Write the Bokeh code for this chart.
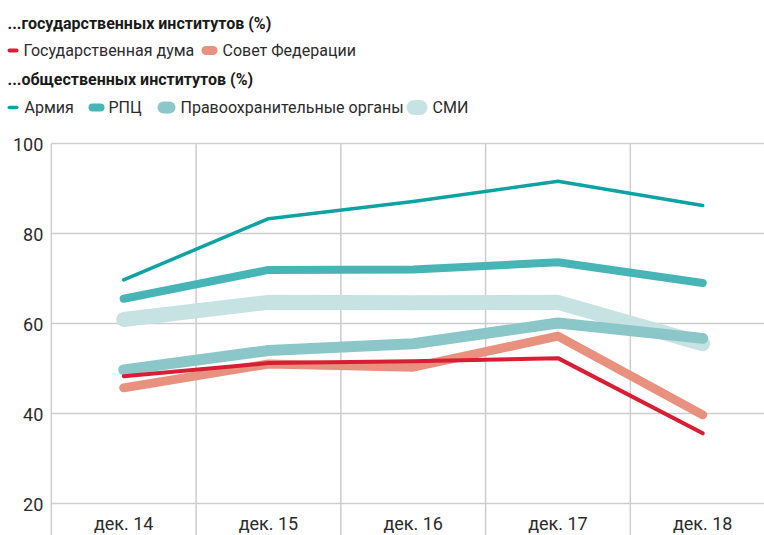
from bokeh.plotting import figure
from bokeh.models import Range1d
from bokeh.core.properties import value
from bokeh.embed import file_html
from bokeh.resources import INLINE

# ---- data ----
categories = ["дек. 14", "дек. 15", "дек. 16", "дек. 17", "дек. 18"]
duma = [48.3, 51.2, 51.6, 52.3, 35.6]
sovfed = [45.7, 51.0, 50.3, 57.2, 39.7]
armiya = [69.7, 83.3, 87.1, 91.6, 86.2]
rpc = [65.5, 71.9, 72.0, 73.6, 69.0]
police = [49.7, 54.0, 55.5, 60.1, 56.7]
smi = [60.9, 64.7, 64.6, 64.7, 55.5]
y_ticks = [20, 40, 60, 80, 100]

title_state = "...государственных институтов (%)"
title_public = "...общественных институтов (%)"
names_state = ["Государственная дума", "Совет Федерации"]
names_public = ["Армия", "РПЦ", "Правоохранительные органы", "СМИ"]

# ---- styles ----
C_DUMA, C_SOVFED = "#d81e34", "#e8917e"
C_ARM, C_RPC, C_POL, C_SMI = "#0ea2a2", "#47b4b6", "#8bc7c9", "#c7e2e2"
W_DUMA, W_SOVFED = 4, 9
W_ARM, W_RPC, W_POL, W_SMI = 3.5, 8, 11, 15
FONT = value("Roboto")
TXT = "#2b2b2b"
GRID_C = "#cdcdcd"

W, H = 764, 535
# layout in canvas pixels
PLOT_TOP = 143          # pixel row of the y=100 gridline
PX_PER_UNIT = 4.5       # pixels per percentage point
X0_PX = 123.2           # pixel column of the first category
STEP_PX = 144.75        # pixels between categories

y_max = 100 + PLOT_TOP / PX_PER_UNIT
y_min = 100 - (H - PLOT_TOP) / PX_PER_UNIT
x_min = -X0_PX / STEP_PX
x_max = (W - X0_PX) / STEP_PX

p = figure(width=W, height=H, x_range=Range1d(x_min, x_max), y_range=Range1d(y_min, y_max),
           output_backend="svg", toolbar_location=None,
           x_axis_location=None, y_axis_location=None,
           min_border=0, outline_line_color=None)
p.xgrid.visible = False
p.ygrid.visible = False
p.extra_x_ranges = {"px": Range1d(0, W)}
p.extra_y_ranges = {"px": Range1d(H, 0)}

n = len(categories)
xs = list(range(n))
left_edge = -0.5

# grid: horizontal lines at the y ticks, vertical lines between categories
p.segment(x0=[left_edge] * len(y_ticks), x1=[x_max] * len(y_ticks), y0=y_ticks, y1=y_ticks,
          line_color=GRID_C, line_width=1.5)
bx = [i - 0.5 for i in range(n)]
p.segment(x0=bx, x1=bx, y0=[y_min] * n, y1=[max(y_ticks)] * n,
          line_color=GRID_C, line_width=1.5)

# y tick labels
p.text(x=[left_edge] * len(y_ticks), y=y_ticks, text=[str(t) for t in y_ticks],
       x_offset=-8, y_offset=1, text_font=FONT, text_font_size="18px", text_color=TXT,
       text_align="right", text_baseline="middle")

# category labels
p.text(x=xs, y=[y_min] * n, text=categories, y_offset=-12, text_font=FONT,
       text_font_size="18px", text_color=TXT, text_align="center", text_baseline="middle")

# series
for ys, c, w in [(smi, C_SMI, W_SMI), (police, C_POL, W_POL), (rpc, C_RPC, W_RPC),
                 (armiya, C_ARM, W_ARM), (sovfed, C_SOVFED, W_SOVFED), (duma, C_DUMA, W_DUMA)]:
    p.line(x=xs, y=ys, line_color=c, line_width=w, line_cap="round", line_join="round")

# ---- legend (canvas pixel coordinates) ----
def ptext(x, y, t, bold=False):
    p.text(x=x, y=y, text=t, x_range_name="px", y_range_name="px", text_font=FONT,
           text_font_size="16px", text_font_style="bold" if bold else "normal",
           text_color="#1a1a1a" if bold else TXT, text_baseline="middle", text_align="left")

def swatch(x0, x1, y, color, w):
    p.line(x=[x0 + w / 2, x1 - w / 2], y=[y, y], line_color=color, line_width=w,
           line_cap="round", x_range_name="px", y_range_name="px")

ptext([7], [23], [title_state], bold=True)
ptext([7], [79], [title_public], bold=True)

row2, row4 = 50, 107
swatch(7, 18, row2, C_DUMA, W_DUMA)
swatch(201, 217, row2, C_SOVFED, W_SOVFED)
ptext([23, 222], [row2] * 2, names_state)

swatch(7, 18, row4, C_ARM, W_ARM)
swatch(88, 104, row4, C_RPC, W_RPC)
swatch(157, 175, row4, C_POL, 12)
swatch(406, 427, row4, C_SMI, W_SMI)
ptext([24, 108, 180, 432], [row4] * 4, names_public)

open("out.html", "w").write(file_html(p, INLINE))
